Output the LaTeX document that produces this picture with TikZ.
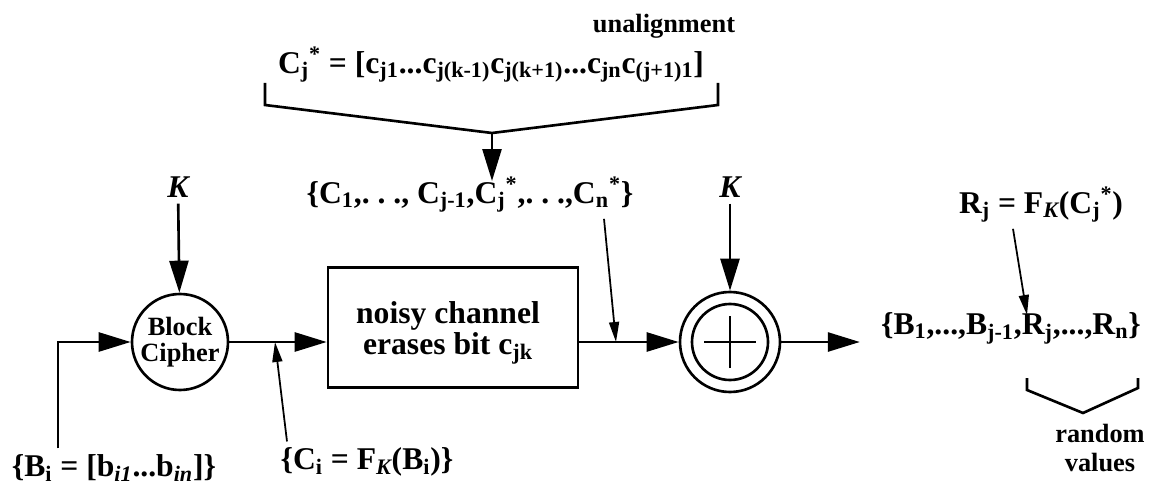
\documentclass[tikz,border=0pt]{standalone}
\usepackage{fontspec}
\setmainfont{Liberation Serif}
\usetikzlibrary{positioning,arrows.meta}

\newcommand{\sbs}[1]{\textsubscript{#1}}
\newcommand{\sps}[1]{\textsuperscript{#1}}

\begin{document}
\begin{tikzpicture}[
            every node/.style={font=\fontsize{18}{16}\selectfont\bfseries},
            box/.style={
                draw,
                line width=1.5pt,
                minimum width=50mm,
                minimum height=24mm,
                align=center
            },
            cipherbox/.style={
                draw,
                circle,
                line width=1.5pt,
                minimum size=19.2mm,
                inner sep=0pt,
                align=center,
                font=\fontsize{15}{15}\selectfont\bfseries
            },
            xorbox/.style={draw, circle, line width=1.5pt, minimum size=20mm},
            arrow/.style={-{Triangle[length=6.4mm, width=3.8mm]}, line width=1.5pt},
            pointer/.style={-{Triangle[length=4mm, width=2mm]}, line width=1pt},
            brace/.style={line width=1.5pt}
        ]
        \useasboundingbox (0,0) rectangle (23.04,-9.76);

        \node[cipherbox] (cipher) at (3.6,-6.84) {Block\\Cipher};
        \node[box] (channel) at (9.06,-6.55) {};
        \node (chantext) at (8.96,-6.66) [align=center] {noisy channel\\erases bit c\sbs{jk}};
        \node[xorbox] (xor) at (14.6,-6.84) {};
        \draw[line width=1.5pt] (xor.center) circle (0.76);
        \draw[line width=1.5pt] ([xshift=-0.52cm]xor.center) -- ([xshift=0.52cm]xor.center);
        \draw[line width=1.5pt] ([yshift=-0.52cm]xor.center) -- ([yshift=0.52cm]xor.center);

        \node (keyA) at (3.56,-3.74) {\itshape K};
        \node (keyB) at (14.6,-3.74) {\itshape K};

        \node (plain) at (2.28,-9.36) {\{B\sbs{i} = [b\sbs{\itshape i1}...b\sbs{\itshape in}]\}};
        \node (ciph) at (7.34,-9.24) {\{C\sbs{i} = F\sbs{\itshape K}(B\sbs{i})\}};
        \node (recv) at (9.4,-3.9) {\{C\sbs{1},.\ .\ ., C\sbs{j-1},C\sbs{j}\sps{*},.\ .\ .,C\sbs{n}\sps{*}\}};
        \node (errword) at (9.82,-1.3) {C\sbs{j}\sps{*} = [c\sbs{j1}...c\sbs{j(k-1)}c\sbs{j(k+1)}...c\sbs{jn}c\sbs{(j+1)1}]};
        \node[font=\fontsize{15}{15}\selectfont\bfseries] (unalign) at (13.28,-0.52) {unalignment};
        \node (out) at (20.22,-6.56) {\{B\sbs{1},...,B\sbs{j-1},R\sbs{j},...,R\sbs{n}\}};
        \node (rj) at (20.82,-4.1) {R\sbs{j} = F\sbs{\itshape K}(C\sbs{j}\sps{*})};
        \node[align=center, font=\fontsize{15}{17}\selectfont\bfseries] (rand) at (22.0,-8.96) {random\\values};

        \coordinate (apex) at (9.84,-2.66);
        \coordinate (apextip) at (9.84,-3.62);
        \coordinate (cpt) at (5.5,-6.84);
        \coordinate (cnpt) at (12.32,-6.84);
        \coordinate (rjpt) at (20.54,-6.3);
        \coordinate (lowapex) at (21.66,-8.26);

        \draw[arrow] ([xshift=-1.12cm]plain.north) |- (cipher);
        \draw[arrow] (cipher) -- (cipher -| channel.west);
        \draw[arrow] (channel.east |- xor) -- (xor);
        \draw[arrow] (xor) -- ([xshift=-0.3cm]xor -| out.west);
        \draw[arrow] (keyA) -- (cipher);
        \draw[arrow] (keyB) -- (xor);

        \draw[pointer] ([xshift=-1.6cm]ciph.north) -- (cpt);
        \draw[pointer] ([xshift=2.68cm]recv.south) -- (cnpt);
        \draw[pointer] ([xshift=-0.56cm]rj.south) -- (rjpt);

        \draw[brace] (5.3,-1.66) -- (5.3,-2.1) -- (apex) -- (14.36,-2.1) -- (14.36,-1.66);
        \draw[arrow] (apex) -- (apextip);
        \draw[brace] (20.54,-7.56) -- (20.54,-7.8) -- (lowapex) -- (22.76,-7.76) -- (22.76,-7.56);
        \end{tikzpicture}
\end{document}
